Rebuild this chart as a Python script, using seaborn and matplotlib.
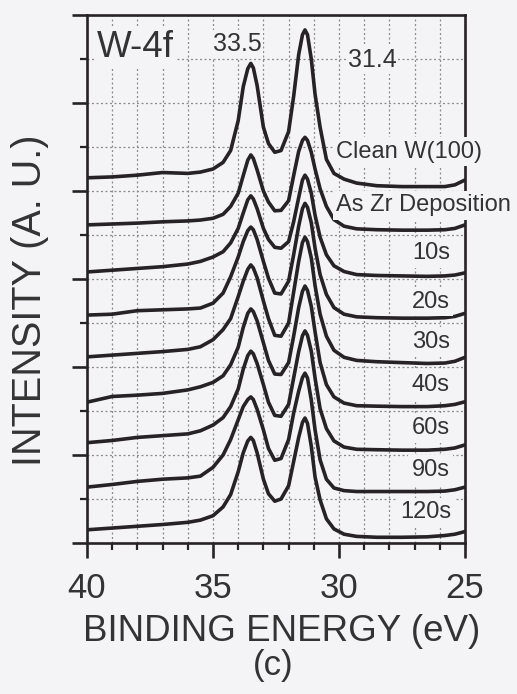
import matplotlib
matplotlib.use("Agg")
import matplotlib.pyplot as plt
import seaborn as sns
import pandas as pd
from matplotlib.ticker import MultipleLocator

# ---------------- data ----------------
energy = [40, 39, 38, 37, 36, 35.5, 35, 34.6, 34.3, 34.0,
          33.8, 33.62, 33.5, 33.4, 33.25, 33.0,
          32.8, 32.55, 32.3, 32.0,
          31.8, 31.6, 31.45, 31.35, 31.25, 31.1, 30.95,
          30.75, 30.5, 30.2, 29.8, 29.3, 28.5, 27.5, 26.5, 25.8, 25.4, 25.0]

clean = [8.30, 8.32, 8.36, 8.42, 8.40, 8.43, 8.50, 8.65, 8.92, 9.60,
         10.37, 10.78, 10.90, 10.80, 10.40, 9.45,
         9.08, 8.88, 8.92, 9.35,
         10.15, 11.10, 11.55, 11.66, 11.55, 11.00, 10.20,
         9.45, 8.72, 8.40, 8.27, 8.18, 8.12, 8.10, 8.10, 8.10, 8.14, 8.25]
as_zr = [7.23, 7.25, 7.27, 7.30, 7.32, 7.34, 7.38, 7.47, 7.65, 7.95,
         8.35, 8.70, 8.82, 8.74, 8.48, 8.00,
         7.75, 7.55, 7.56, 7.78,
         8.35, 8.90, 9.15, 9.22, 9.15, 8.88, 8.50,
         8.05, 7.65, 7.35, 7.20, 7.14, 7.12, 7.11, 7.11, 7.12, 7.15, 7.23]
s10 = [6.16, 6.20, 6.24, 6.28, 6.34, 6.40, 6.50, 6.62, 6.82, 7.15,
       7.50, 7.80, 7.89, 7.82, 7.60, 7.15,
       6.90, 6.72, 6.70, 6.85,
       7.30, 7.85, 8.25, 8.36, 8.27, 7.95, 7.45,
       6.95, 6.55, 6.30, 6.17, 6.10, 6.08, 6.07, 6.06, 6.07, 6.09, 6.14]
s20 = [5.18, 5.20, 5.28, 5.30, 5.32, 5.34, 5.45, 5.68, 6.05, 6.50,
       6.85, 7.10, 7.18, 7.12, 6.90, 6.40,
       6.02, 5.68, 5.66, 5.95,
       6.55, 7.20, 7.60, 7.72, 7.63, 7.28, 6.70,
       6.10, 5.65, 5.35, 5.20, 5.14, 5.12, 5.11, 5.11, 5.12, 5.15, 5.22]
s30 = [4.23, 4.27, 4.31, 4.35, 4.40, 4.46, 4.62, 4.85, 5.10, 5.60,
       5.95, 6.22, 6.32, 6.25, 6.03, 5.50,
       5.10, 4.72, 4.70, 5.00,
       5.70, 6.40, 6.83, 6.95, 6.85, 6.48, 5.85,
       5.20, 4.70, 4.38, 4.22, 4.15, 4.12, 4.10, 4.08, 4.09, 4.13, 4.22]
s40 = [3.20, 3.33, 3.36, 3.40, 3.48, 3.55, 3.65, 3.80, 4.05, 4.45,
       4.90, 5.22, 5.32, 5.26, 5.05, 4.55,
       4.15, 3.84, 3.83, 4.10,
       4.70, 5.35, 5.72, 5.84, 5.74, 5.38, 4.80,
       4.10, 3.60, 3.32, 3.18, 3.12, 3.11, 3.10, 3.10, 3.12, 3.15, 3.21]
s60 = [2.28, 2.33, 2.40, 2.44, 2.48, 2.55, 2.68, 2.85, 3.10, 3.50,
       3.95, 4.26, 4.36, 4.30, 4.08, 3.60,
       3.20, 2.90, 2.88, 3.15,
       3.75, 4.35, 4.71, 4.82, 4.72, 4.36, 3.75,
       3.05, 2.60, 2.32, 2.18, 2.13, 2.12, 2.11, 2.11, 2.13, 2.16, 2.23]
s90 = [1.27, 1.33, 1.40, 1.45, 1.48, 1.52, 1.72, 2.00, 2.35, 2.80,
       3.10, 3.26, 3.32, 3.26, 3.04, 2.57,
       2.15, 1.88, 1.92, 2.35,
       2.95, 3.45, 3.76, 3.86, 3.75, 3.25, 2.57,
       1.89, 1.45, 1.25, 1.19, 1.17, 1.17, 1.17, 1.17, 1.18, 1.21, 1.27]
s120 = [0.30, 0.34, 0.38, 0.42, 0.47, 0.52, 0.62, 0.82, 1.10, 1.62,
        2.05, 2.32, 2.40, 2.33, 2.05, 1.45,
        1.12, 0.95, 1.00, 1.30,
        1.85, 2.40, 2.74, 2.84, 2.72, 2.20, 1.50,
        0.98, 0.55, 0.32, 0.20, 0.15, 0.13, 0.13, 0.14, 0.17, 0.20, 0.26]

series_names = ["Clean W(100)", "As Zr Deposition", "10s", "20s", "30s",
                "40s", "60s", "90s", "120s"]
series_values = [clean, as_zr, s10, s20, s30, s40, s60, s90, s120]

x_ticks = [40, 35, 30, 25]
peak_labels = ["33.5", "31.4"]

# ---------------- build table ----------------
rows = []
for name, vals in zip(series_names, series_values):
    for e, v in zip(energy, vals):
        rows.append({"energy": e, "intensity": v, "sample": name})
df = pd.DataFrame(rows)

# ---------------- style ----------------
sns.set_theme(style="white")
plt.rcParams["font.family"] = ["Liberation Sans", "DejaVu Sans"]
bg = "#f4f4f6"
ink = "#272225"
txt = "#333333"

fig = plt.figure(figsize=(5.17, 6.94), dpi=100, facecolor=bg)
ax = fig.add_axes([87 / 517, 1 - 543 / 694, 378 / 517, 528 / 694], facecolor=bg)

sns.lineplot(data=df, x="energy", y="intensity", hue="sample", units="sample",
             estimator=None, palette={n: ink for n in series_names},
             linewidth=2.6, legend=False, ax=ax, zorder=3)
for ln in ax.lines:
    ln.set_solid_joinstyle("round")

ax.set_xlim(40, 25)
ax.set_ylim(0, 12)
ax.xaxis.set_major_locator(MultipleLocator(5))
ax.xaxis.set_minor_locator(MultipleLocator(1))
ax.yaxis.set_major_locator(MultipleLocator(2))
ax.yaxis.set_minor_locator(MultipleLocator(1))
ax.set_xticks(x_ticks)
ax.set_xticklabels([str(t) for t in x_ticks])
ax.set_yticklabels([])

ax.set_axisbelow(True)
ax.grid(True, which="both", color="#8c8c8c", linestyle=(0, (1.6, 2.0)), linewidth=0.9)

for sp in ax.spines.values():
    sp.set_color(ink)
    sp.set_linewidth(1.9)
    sp.set_zorder(2.5)

ax.tick_params(axis="both", which="major", direction="out", length=11, width=1.9,
               color=ink, labelsize=25, labelcolor=txt, pad=10)
ax.tick_params(axis="both", which="minor", direction="out", length=5, width=1.6,
               color=ink)
ax.tick_params(axis="x", which="both", bottom=True, top=False)
ax.tick_params(axis="y", which="both", left=True, right=False)

ax.set_xlabel("BINDING ENERGY (eV)", fontsize=26.5, color=txt)
ax.xaxis.set_label_coords(0.515, -0.135)
ax.set_ylabel("INTENSITY (A. U.)", fontsize=28.5, color=txt)
ax.yaxis.set_label_coords(-0.1, 0.46)

fig.text(273 / 517, 1 - 665 / 694, "(c)", fontsize=25, color=txt,
         ha="center", va="center")

box = dict(facecolor=bg, edgecolor="none", pad=1.5)

ax.text(38.1, 11.27, "W-4f", fontsize=26.5, color=txt, ha="center", va="center",
        bbox=box, zorder=4)
ax.text(34.05, 11.34, peak_labels[0], fontsize=18, color=txt, ha="center",
        va="center", bbox=box, zorder=4)
ax.text(28.69, 10.98, peak_labels[1], fontsize=18, color=txt, ha="center",
        va="center", bbox=box, zorder=4)

label_pos = {
    "Clean W(100)": (30.1, 8.89, "left"),
    "As Zr Deposition": (30.1, 7.68, "left"),
    "10s": (25.6, 6.59, "right"),
    "20s": (25.6, 5.48, "right"),
    "30s": (25.6, 4.57, "right"),
    "40s": (25.6, 3.59, "right"),
    "60s": (25.6, 2.61, "right"),
    "90s": (25.6, 1.66, "right"),
    "120s": (25.55, 0.70, "right"),
}
for name in series_names:
    x, y, ha = label_pos[name]
    ax.text(x, y, name, fontsize=17, color=txt, ha=ha, va="center",
            bbox=dict(facecolor=bg, edgecolor="none", pad=2.5),
            zorder=4, clip_on=False)

fig.savefig("out.png", dpi=100, facecolor=bg)
